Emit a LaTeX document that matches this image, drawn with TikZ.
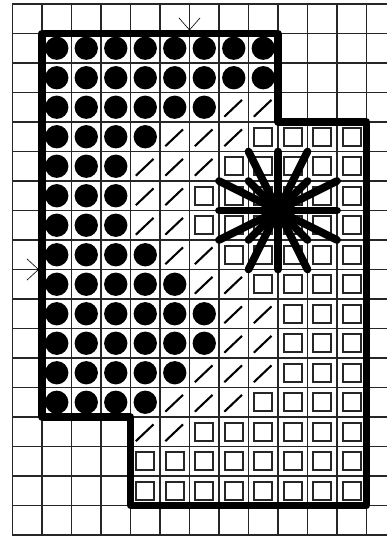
\documentclass[tikz,border=0pt]{standalone}
\begin{document}
\begin{tikzpicture}[
  gridline/.style={draw=black!85, line width=1.1pt},
  outline/.style={draw=black, line width=7pt, line join=round},
  dot/.style={fill=black},
  slashmark/.style={draw=black, line width=2pt},
  boxmark/.style={draw=black!85, line width=1.9pt},
  ray/.style={draw=black, line width=7.4pt, line cap=round},
  tick/.style={draw=black, line width=0.6pt}
]
\useasboundingbox (-0.4237,0.1356) rectangle (12.695,-18.034);
% grid
\foreach \i in {0,...,12} \draw[gridline] (\i,0) -- (\i,-18);
\foreach \j in {0,...,18} \draw[gridline] (0,-\j) -- (12.695,-\j);
% circles
\foreach \r/\a/\b in {1/1/8,2/1/8,3/1/6,4/1/4,5/1/3,6/1/3,7/1/3,8/1/4,9/1/5,10/1/6,11/1/6,12/1/5,13/1/4}
  \foreach \c in {\a,...,\b}
    \fill[dot] (\c+0.5,-\r-0.5) circle (0.395);
% slashes
\foreach \r/\a/\b in {3/7/8,4/5/7,5/4/6,6/4/5,7/4/5,8/5/6,9/6/7,10/7/8,11/7/8,12/6/8,13/5/7,14/4/5}
  \foreach \c in {\a,...,\b}
    \draw[slashmark] (\c+0.18,-\r-0.82) -- (\c+0.78,-\r-0.25);
% squares
\foreach \r/\a/\b in {4/8/11,5/7/11,6/6/11,7/6/11,8/7/11,9/8/11,10/9/11,11/9/11,12/9/11,13/8/11,14/6/11,15/4/11,16/4/11}
  \foreach \c in {\a,...,\b}
    \draw[boxmark] (\c+0.2,-\r-0.2) rectangle (\c+0.8,-\r-0.8);
% outline
\draw[outline] (1,-1) -- (9,-1) -- (9,-4) -- (12,-4) -- (12,-17) -- (4,-17) -- (4,-14) -- (1,-14) -- cycle;
% starburst
\coordinate (sc) at (9,-7);
\foreach \dx/\dy in {0/2,0/-2,2/0,-2/0,1/2,-1/2,1/-2,-1/-2,2/1,-2/1,2/-1,-2/-1,1/1,-1/1,1/-1,-1/-1}
  \draw[ray] (sc) -- ++(\dx,\dy);
% small marks
\coordinate (ta) at (6,-0.88);
\draw[tick] (5.64,-0.47) -- (ta) -- (6.36,-0.47);
\coordinate (la) at (0.88,-9);
\draw[tick] (0.49,-8.64) -- (la) -- (0.49,-9.36);
\end{tikzpicture}
\end{document}
